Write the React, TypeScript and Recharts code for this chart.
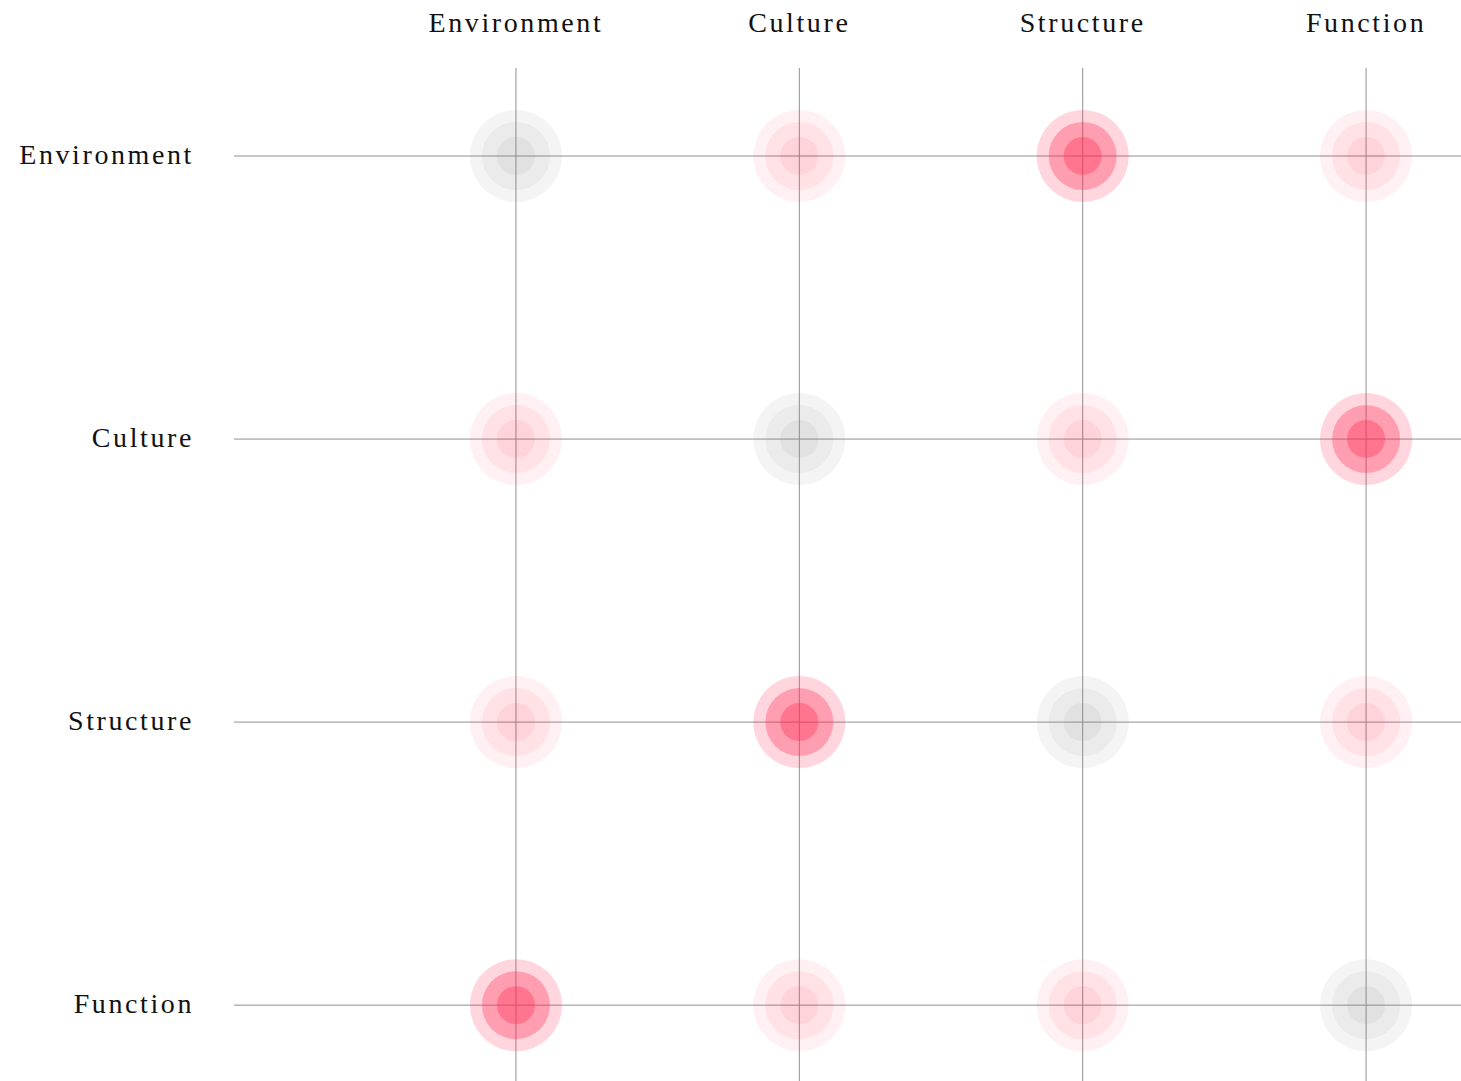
import { ScatterChart, Scatter, XAxis, YAxis, CartesianGrid } from 'recharts';

const COLUMNS = ['Environment', 'Culture', 'Structure', 'Function'];
const ROWS = ['Environment', 'Culture', 'Structure', 'Function'];
const TICKS = [0, 1, 2, 3];

// link strength between row and column (0 = self, 1 = weak, 3 = strong)
const STRENGTH_ENVIRONMENT = [0, 1, 3, 1];
const STRENGTH_CULTURE = [1, 0, 1, 3];
const STRENGTH_STRUCTURE = [1, 3, 0, 1];
const STRENGTH_FUNCTION = [3, 1, 1, 0];

const STRENGTHS = [STRENGTH_ENVIRONMENT, STRENGTH_CULTURE, STRENGTH_STRUCTURE, STRENGTH_FUNCTION];

const FONT = '"Liberation Serif", serif';

// ring opacities per strength (outer, middle, inner)
const RING_STYLE: Record<number, { color: string; alpha: number[] }> = {
  0: { color: '#808080', alpha: [0.09, 0.07, 0.09] },
  1: { color: '#ff2d55', alpha: [0.07, 0.075, 0.075] },
  3: { color: '#ff2d55', alpha: [0.195, 0.33, 0.37] },
};
const RING_RADII = [46, 34, 19];

const cells = STRENGTHS.flatMap((row, ri) =>
  row.map((s, ci) => ({ col: ci, row: ri, strength: s }))
);

function RingShape(props: any) {
  const { cx, cy, payload } = props;
  const style = RING_STYLE[payload.strength];
  return (
    <g>
      {RING_RADII.map((r, i) => (
        <circle key={i} cx={cx} cy={cy} r={r} fill={style.color} fillOpacity={style.alpha[i]} />
      ))}
    </g>
  );
}

function TopTick(props: any) {
  const { x, payload } = props;
  return (
    <text x={x} y={32} textAnchor="middle" fontFamily={FONT} fontSize={28} letterSpacing={2.6} fill="#111">
      {COLUMNS[payload.value]}
    </text>
  );
}

function LeftTick(props: any) {
  const { y, payload } = props;
  return (
    <text x={194} y={y + 8} textAnchor="end" fontFamily={FONT} fontSize={28} letterSpacing={2.6} fill="#111">
      {ROWS[payload.value]}
    </text>
  );
}

export default function App() {
  return (
    <div style={{ position: 'absolute', left: 0, top: 0, background: '#fff' }}>
      <ScatterChart width={1461} height={1081} margin={{ top: 0, right: 0, bottom: 0, left: 0 }}>
        <CartesianGrid stroke="#909090" strokeWidth={1} syncWithTicks />
        <XAxis
          type="number"
          dataKey="col"
          orientation="top"
          domain={[-0.995, 3.335]}
          ticks={TICKS}
          height={68}
          axisLine={false}
          tickLine={false}
          tick={<TopTick />}
        />
        <YAxis
          type="number"
          dataKey="row"
          reversed
          domain={[-0.311, 3.268]}
          ticks={TICKS}
          width={234}
          axisLine={false}
          tickLine={false}
          tick={<LeftTick />}
        />
        <Scatter data={cells} shape={<RingShape />} isAnimationActive={false} />
      </ScatterChart>
    </div>
  );
}
